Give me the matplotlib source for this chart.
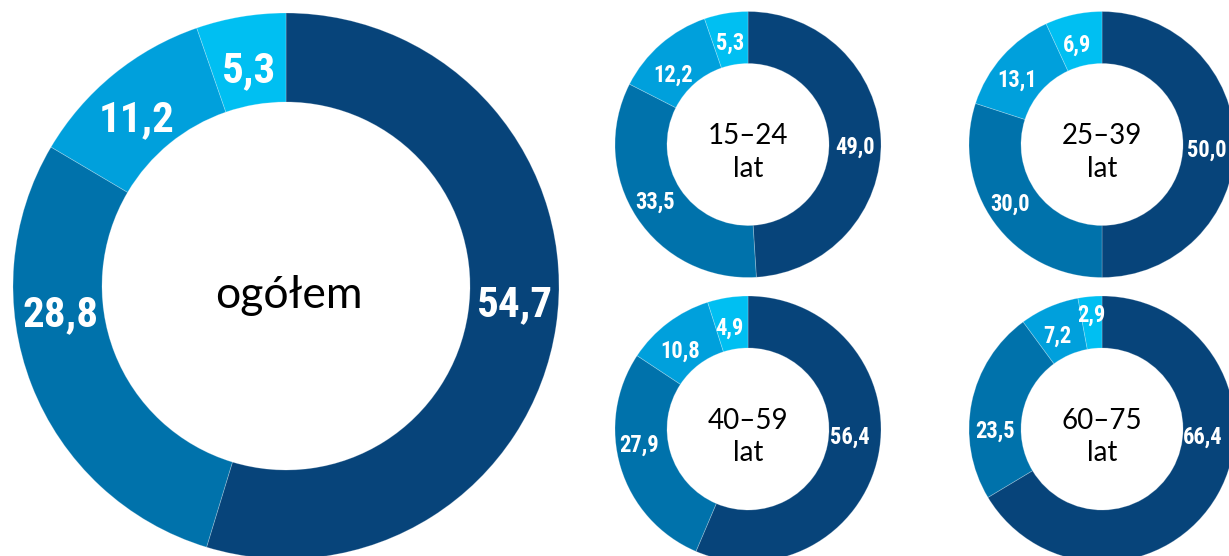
import numpy as np
import matplotlib.pyplot as plt
from matplotlib import font_manager as fm
from matplotlib.textpath import TextPath

# udział (%) w kolejności: od góry zgodnie z ruchem wskazówek zegara
ogolem = [54.7, 28.8, 11.2, 5.3]
grupy = ["15–24\nlat", "25–39\nlat", "40–59\nlat", "60–75\nlat"]
wartosci = [
    [49.0, 33.5, 12.2, 5.3],
    [50.0, 30.0, 13.1, 6.9],
    [56.4, 27.9, 10.8, 4.9],
    [66.4, 23.5, 7.2, 2.9],
]

kolory = ["#07447a", "#0072ab", "#00a0dc", "#00bff2"]

W, H = 1229, 556


def pick_narrow():
    # szukamy wąskiego, pogrubionego kroju; w razie braku Roboto Bold
    prefs = ["Liberation Sans Narrow", "Roboto Condensed", "Open Sans Condensed",
             "Noto Sans Condensed", "Noto Sans"]
    cands = []
    for f in fm.fontManager.ttflist:
        w = f.weight if isinstance(f.weight, int) else fm.weight_dict.get(f.weight, 400)
        st = str(f.stretch)
        narrow = ("Narrow" in f.name or "Condensed" in f.name
                  or st in ("condensed", "semi-condensed", "extra-condensed"))
        if w >= 700 and narrow and "DejaVu" not in f.name:
            rank = prefs.index(f.name) if f.name in prefs else len(prefs)
            cands.append((rank, f.fname))
    if cands:
        cands.sort()
        return fm.FontProperties(fname=cands[0][1])
    return fm.FontProperties(family="Roboto", weight="bold")


fp_lab = pick_narrow()


def fit_size(sample, width_px, cap_px):
    e = TextPath((0, 0), sample, size=10, prop=fp_lab).get_extents()
    c = TextPath((0, 0), "0", size=10, prop=fp_lab).get_extents()
    px = 100 / 72
    s1 = width_px * 10 / (e.width * px)
    s2 = cap_px * 10 / (c.height * px)
    return min(s1, s2)


big_size = fit_size("54,7", 72, 34)
small_size = fit_size("49,0", 38, 17.5)

fig = plt.figure(figsize=(W / 100, H / 100), dpi=100)
ax = fig.add_axes([0, 0, 1, 1])

mid_font = dict(family=["Lato", "DejaVu Sans"], color="black")


def fmt(v):
    return f"{v:.1f}".replace(".", ",")


def donut(vals, cx, cy, R, r, angles, lrad, lsize):
    cy = H - cy
    ax.pie(vals, colors=kolory, startangle=90, counterclock=False,
           center=(cx, cy), radius=R,
           wedgeprops=dict(width=R - r, edgecolor=(1, 1, 1, 0.25), linewidth=0.6))
    for v, a, rr in zip(vals, angles, lrad):
        t = np.deg2rad(a)
        ax.text(cx + rr * np.sin(t), cy + rr * np.cos(t), fmt(v),
                ha="center", va="center_baseline", fontproperties=fp_lab,
                fontsize=lsize, color="white")


# duży pierścień
donut(ogolem, 286, 286, 273, 184, [93.5, 264, 319, 350.5], [229, 227, 227, 223], big_size)
ax.text(289, H - 296, "ogółem", ha="center", va="center", fontsize=32, **mid_font)

# małe pierścienie
centra = [(748, 144.5), (1102, 144.5), (748, 429), (1102, 429)]
katy = [
    [90, 239, 314, 350],
    [92, 238, 308, 346],
    [93, 263, 320, 350],
    [93, 270, 335, 355],
]
promienie = [
    [107, 108, 104, 105],
    [105, 108, 108, 105],
    [102, 110, 105, 105],
    [101, 107, 105, 117],
]
for (cx, cy), vals, nazwa, k, p in zip(centra, wartosci, grupy, katy, promienie):
    donut(vals, cx, cy, 133, 81, k, p, small_size)
    ax.text(cx, H - cy - 8, nazwa, ha="center", va="center", fontsize=20,
            linespacing=1.3, **mid_font)

ax.set_xlim(0, W)
ax.set_ylim(0, H)
ax.set_aspect("equal")
ax.axis("off")

fig.savefig("out.png", dpi=100)
